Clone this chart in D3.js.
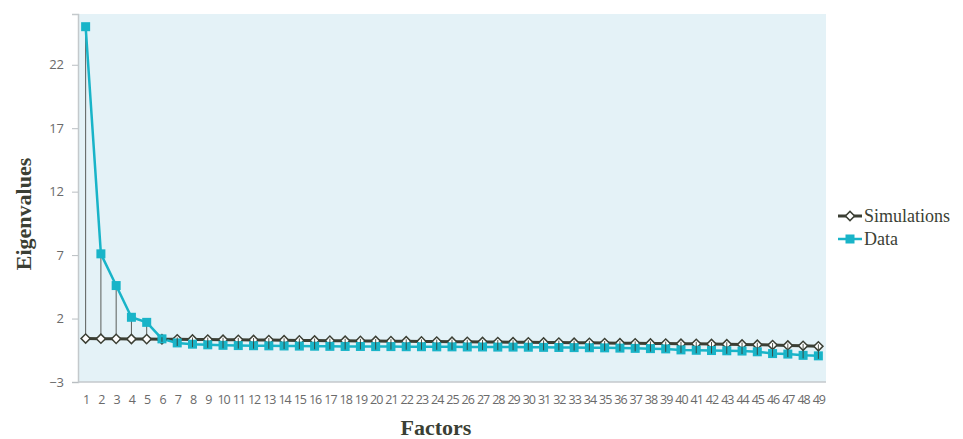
<!DOCTYPE html>
<html>
<head>
<meta charset="utf-8">
<script src="https://cdn.jsdelivr.net/npm/d3@7"></script>
<style>
  html, body { margin: 0; padding: 0; background: #ffffff; }
  svg { display: block; }
</style>
</head>
<body>
<svg id="chart" width="963" height="439"></svg>
<script>
// Factor numbers along the x axis
const factors = d3.range(1, 50).map(String);

// Eigenvalues from simulated (random) data
const simulations = [
  0.42, 0.41, 0.40, 0.39, 0.38, 0.37, 0.36, 0.35, 0.34, 0.33,
  0.32, 0.31, 0.30, 0.29, 0.28, 0.27, 0.26, 0.25, 0.24, 0.23,
  0.22, 0.21, 0.20, 0.19, 0.18, 0.17, 0.16, 0.15, 0.14, 0.13,
  0.12, 0.11, 0.10, 0.09, 0.07, 0.06, 0.05, 0.04, 0.03, 0.02,
  0.01, 0.00, -0.02, -0.04, -0.06, -0.09, -0.12, -0.15, -0.19
];

// Eigenvalues from the observed data
const observed = [
  25.0, 7.1, 4.6, 2.1, 1.7, 0.4, 0.08, -0.02, -0.07, -0.11,
  -0.13, -0.14, -0.15, -0.16, -0.17, -0.18, -0.19, -0.2, -0.2, -0.21,
  -0.21, -0.22, -0.22, -0.23, -0.23, -0.24, -0.24, -0.25, -0.25, -0.26,
  -0.27, -0.28, -0.29, -0.3, -0.31, -0.33, -0.35, -0.37, -0.39, -0.47,
  -0.5, -0.52, -0.54, -0.56, -0.62, -0.76, -0.8, -0.9, -0.94
];

const yTicks = [-3, 2, 7, 12, 17, 22];

const seriesNames = ["Simulations", "Data"];
const colors = { Simulations: "#3b3f34", Data: "#19b4c8" };

const svg = d3.select("#chart");
const plot = { left: 78, right: 826, top: 14, bottom: 382 };

const x = d3.scalePoint()
  .domain(factors)
  .range([plot.left, plot.right])
  .padding(0.5);

const y = d3.scaleLinear()
  .domain([-3, 26])
  .range([plot.bottom, plot.top]);

// Plot background
svg.append("rect")
  .attr("x", plot.left)
  .attr("y", plot.top)
  .attr("width", plot.right - plot.left)
  .attr("height", plot.bottom - plot.top)
  .attr("fill", "#e4f2f7");

// Y axis
const yAxis = svg.append("g")
  .attr("transform", `translate(${plot.left},0)`)
  .call(d3.axisLeft(y).tickValues(yTicks).tickSize(6).tickPadding(8));
yAxis.select(".domain").attr("stroke", "#c4c9cc").attr("stroke-width", 1.5);
yAxis.selectAll(".tick line").attr("stroke", "#b9bec2");
yAxis.selectAll(".tick text")
  .attr("fill", "#6a6a6a")
  .style("font-family", "'Open Sans', sans-serif")
  .style("font-size", "13px");

// X axis
const xAxis = svg.append("g")
  .attr("transform", `translate(0,${plot.bottom})`)
  .call(d3.axisBottom(x).tickSize(0).tickPadding(13));
xAxis.select(".domain").attr("stroke", "#c4c9cc").attr("stroke-width", 1.5)
  .attr("d", `M${plot.left},0H${plot.right}`);
xAxis.selectAll(".tick text")
  .attr("fill", "#6a6a6a")
  .style("font-family", "'Open Sans', sans-serif")
  .style("font-size", "12.5px")
  .style("letter-spacing", "-1px");

// High-low connectors between the two series
svg.append("g")
  .selectAll("line")
  .data(factors)
  .join("line")
  .attr("x1", d => x(d))
  .attr("x2", d => x(d))
  .attr("y1", (d, i) => y(observed[i]))
  .attr("y2", (d, i) => y(simulations[i]))
  .attr("stroke", "#4a4d47")
  .attr("stroke-width", 0.9);

const line = d3.line()
  .x((d, i) => x(factors[i]))
  .y(d => y(d));

// Simulations series
svg.append("path")
  .datum(simulations)
  .attr("d", line)
  .attr("fill", "none")
  .attr("stroke", colors.Simulations)
  .attr("stroke-width", 3);

// Data series
svg.append("path")
  .datum(observed)
  .attr("d", line)
  .attr("fill", "none")
  .attr("stroke", colors.Data)
  .attr("stroke-width", 2.5);

const diamond = d3.symbol().type(d3.symbolSquare).size(42);

svg.append("g")
  .selectAll("path")
  .data(simulations)
  .join("path")
  .attr("d", diamond)
  .attr("transform", (d, i) => `translate(${x(factors[i])},${y(d)}) rotate(45)`)
  .attr("fill", "#ffffff")
  .attr("stroke", colors.Simulations)
  .attr("stroke-width", 1.5);

svg.append("g")
  .selectAll("rect")
  .data(observed)
  .join("rect")
  .attr("x", (d, i) => x(factors[i]) - 4.5)
  .attr("y", d => y(d) - 4.5)
  .attr("width", 9)
  .attr("height", 9)
  .attr("fill", colors.Data);

// Connector ticks visible inside the markers
svg.append("g")
  .selectAll("line")
  .data(factors.slice(5))
  .join("line")
  .attr("x1", d => x(d))
  .attr("x2", d => x(d))
  .attr("y1", d => y(observed[+d - 1]) + 3)
  .attr("y2", d => y(simulations[+d - 1]) - 2)
  .attr("stroke", "#3b3f34")
  .attr("stroke-width", 0.9);

// Axis titles
svg.append("text")
  .attr("transform", `translate(31,${(plot.top + plot.bottom) / 2 + 16}) rotate(-90)`)
  .attr("text-anchor", "middle")
  .attr("fill", "#3b3f34")
  .style("font-family", "'Liberation Serif', serif")
  .style("font-weight", "bold")
  .style("font-size", "22px")
  .text("Eigenvalues");

svg.append("text")
  .attr("x", 436)
  .attr("y", 435)
  .attr("text-anchor", "middle")
  .attr("fill", "#3b3f34")
  .style("font-family", "'Liberation Serif', serif")
  .style("font-weight", "bold")
  .style("font-size", "22px")
  .text("Factors");

// Legend
const legend = svg.append("g").attr("transform", "translate(838,216)");
seriesNames.forEach((name, i) => {
  const g = legend.append("g").attr("transform", `translate(0,${i * 23})`);
  g.append("line")
    .attr("x1", 0).attr("x2", 24)
    .attr("stroke", colors[name])
    .attr("stroke-width", name === "Data" ? 2.5 : 3);
  if (name === "Data") {
    g.append("rect").attr("x", 7.5).attr("y", -4.5).attr("width", 9).attr("height", 9)
      .attr("fill", colors.Data);
  } else {
    g.append("path").attr("d", diamond)
      .attr("transform", "translate(12,0) rotate(45)")
      .attr("fill", "#ffffff").attr("stroke", colors.Simulations).attr("stroke-width", 1.5);
  }
  g.append("text")
    .attr("x", 26)
    .attr("y", 6)
    .attr("fill", "#3b3f34")
    .style("font-family", "'Liberation Serif', serif")
    .style("font-size", "18px")
    .text(name);
});
</script>
</body>
</html>
